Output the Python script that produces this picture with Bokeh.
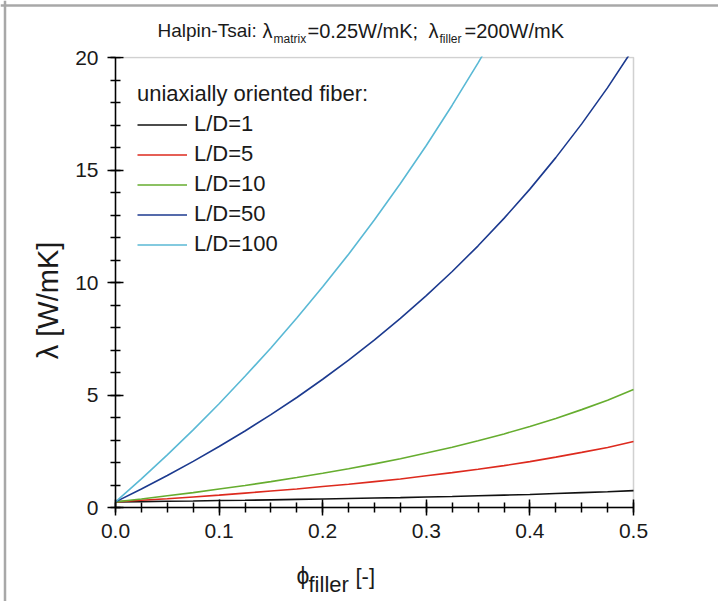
from bokeh.plotting import figure
from bokeh.models import (Range1d, FixedTicker, NumeralTickFormatter, Label, Legend,
                          LegendItem, BoxAnnotation, LinearAxis, Span)
from bokeh.embed import file_html
from bokeh.resources import INLINE
import math

# ---- data ----
phi = [0.0, 0.025, 0.05, 0.075, 0.1, 0.125, 0.15, 0.175, 0.2, 0.225, 0.25,
       0.275, 0.3, 0.325, 0.35, 0.375, 0.4, 0.425, 0.45, 0.475, 0.5]
ld1 = [0.25, 0.26, 0.28, 0.29, 0.31, 0.32, 0.34, 0.36, 0.38, 0.40, 0.42,
       0.44, 0.47, 0.49, 0.52, 0.55, 0.58, 0.62, 0.66, 0.70, 0.75]
ld5 = [0.25, 0.32, 0.39, 0.47, 0.55, 0.64, 0.73, 0.82, 0.93, 1.03, 1.15,
       1.27, 1.41, 1.55, 1.70, 1.86, 2.04, 2.24, 2.45, 2.67, 2.93]
ld10 = [0.25, 0.38, 0.52, 0.66, 0.82, 0.98, 1.15, 1.33, 1.52, 1.72, 1.94,
        2.17, 2.42, 2.68, 2.97, 3.27, 3.60, 3.96, 4.35, 4.77, 5.24]
ld50 = [0.25, 0.82, 1.42, 2.05, 2.71, 3.40, 4.13, 4.89, 5.70, 6.55, 7.45,
        8.41, 9.42, 10.49, 11.63, 12.85, 14.15, 15.55, 17.05, 18.66, 20.41]
ld100 = [0.25, 1.27, 2.34, 3.45, 4.61, 5.83, 7.09, 8.42, 9.81, 11.26, 12.79,
         14.40, 16.09, 17.88, 19.76, 21.75]

series_labels = ["L/D=1", "L/D=5", "L/D=10", "L/D=50", "L/D=100"]
series_values = [ld1, ld5, ld10, ld50, ld100]
series_colors = ["#111111", "#dd2a1e", "#66ad2f", "#1c3a8f", "#5ab9d5"]

x_ticks = [0.0, 0.1, 0.2, 0.3, 0.4, 0.5]
y_ticks = [0, 5, 10, 15, 20]
x_minor = [i * 0.025 for i in range(21)]
y_minor = list(range(21))
X0, X1, Y0, Y1 = 0.0, 0.5, 0.0, 20.0

FONT = "Liberation Sans"
TXT = "#1a1a1a"
EDGE = "#a8a8a8"

# ---- layout: canvas pixels of the plotting box ----
W, H = 718, 601
FL, FT, FR, FB = 115, 57, 633, 507
kx = (X1 - X0) / (FR - FL)
ky = (Y1 - Y0) / (FB - FT)


def xd(cx):
    return X0 + (cx - FL) * kx


def yd(cy):
    return Y0 + (FB - cy) * ky


p = figure(width=W, height=H, output_backend="svg", toolbar_location=None,
           x_range=Range1d(xd(0), xd(W)), y_range=Range1d(yd(H), yd(0)),
           x_axis_type=None, y_axis_type=None, min_border=0)
p.outline_line_color = None
p.background_fill_color = "white"
p.border_fill_color = "white"

# plot box (top and right edges visible; left/bottom lie under the axes)
p.add_layout(BoxAnnotation(left=X0, right=X1, bottom=Y0, top=Y1, fill_alpha=0,
                           line_color="#666666", line_width=1.5, level="underlay"))

renderers = []
for vals, col in zip(series_values, series_colors):
    renderers.append(p.line(phi[:len(vals)], vals, line_color=col, line_width=1.6))

# axes pinned at the data origin
xaxis = LinearAxis(fixed_location=Y0, bounds=(X0, X1),
                   ticker=FixedTicker(ticks=x_ticks, minor_ticks=x_minor),
                   formatter=NumeralTickFormatter(format="0.0"))
yaxis = LinearAxis(fixed_location=X0, bounds=(Y0, Y1),
                   ticker=FixedTicker(ticks=y_ticks, minor_ticks=y_minor),
                   formatter=NumeralTickFormatter(format="0"))
for ax in (xaxis, yaxis):
    ax.axis_line_color = "black"
    ax.axis_line_width = 1.5
    ax.major_tick_line_color = "black"
    ax.major_tick_line_width = 1.5
    ax.minor_tick_line_color = "black"
    ax.minor_tick_line_width = 1.5
    ax.major_tick_in = 8
    ax.major_tick_out = 8
    ax.minor_tick_in = 5
    ax.minor_tick_out = 5
    ax.major_label_text_font = FONT
    ax.major_label_text_font_size = "21px"
    ax.major_label_text_color = TXT
xaxis.major_label_standoff = 8
yaxis.major_label_standoff = 9
p.add_layout(xaxis, "below")
p.add_layout(yaxis, "left")

# curves stop at the top of the plot box
p.add_layout(BoxAnnotation(left=X0, bottom=Y1 + 1 * ky, fill_color="white", fill_alpha=1,
                           line_alpha=0))

# picture edge (top and left)
p.add_layout(Span(location=yd(5), dimension="width", line_color=EDGE, line_width=2.5))
p.add_layout(Span(location=xd(4.5), dimension="height", line_color=EDGE, line_width=2.5))

# legend
items = [LegendItem(label=lab, renderers=[r]) for lab, r in zip(series_labels, renderers)]
leg = Legend(items=items, location=(137, 344), title="uniaxially oriented fiber:",
             title_text_font=FONT, title_text_font_size="22px",
             title_text_font_style="normal", title_text_color=TXT,
             title_standoff=4,
             label_text_font=FONT, label_text_font_size="22px", label_text_color=TXT,
             glyph_width=50, glyph_height=25, label_height=25, label_standoff=7,
             spacing=4, padding=0, margin=0,
             border_line_alpha=0, background_fill_alpha=0)
p.add_layout(leg)


def text(s, cx, cy, size, **kw):
    p.add_layout(Label(x=xd(cx), y=yd(cy), text=s, text_font=FONT,
                       text_font_size=f"{size}px", text_color=TXT, **kw))


def baseline_text(s, cx, base_y, size):
    # placed by the middle of the em box, 0.35 em above the wanted baseline
    text(s, cx, base_y - 0.35 * size, size, text_align="left", text_baseline="middle")


# title with subscripts
title_parts = [
    ("Halpin-Tsai:", 157, 37, 19),
    ("λ", 262, 37, 20),
    ("matrix", 273, 43, 12),
    ("=0.25W/mK;", 307, 37, 20),
    ("λ", 428, 37, 20),
    ("filler", 439, 43, 12),
    ("=200W/mK", 464, 37, 20),
]
for s, x, y, fs in title_parts:
    baseline_text(s, x, y, fs)

# x-axis label
xlab_parts = [
    ("ϕ", 296, 584, 23),
    ("filler", 308, 592, 22),
    ("[-]", 355, 584, 22),
]
for s, x, y, fs in xlab_parts:
    baseline_text(s, x, y, fs)

# y-axis label
text("λ [W/mK]", 47, 300, 29, angle=math.pi / 2,
     text_align="center", text_baseline="middle")

open("out.html", "w").write(file_html(p, INLINE))
